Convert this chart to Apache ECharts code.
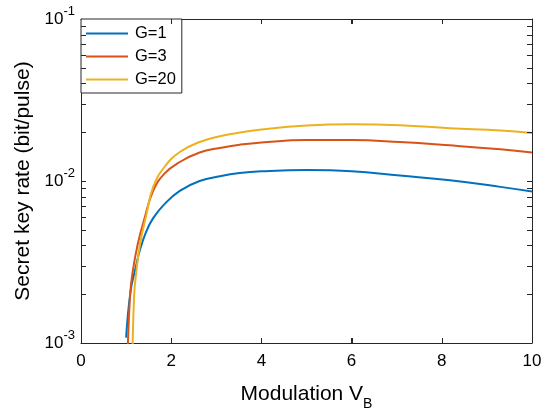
<!DOCTYPE html>
<html><head><meta charset="utf-8">
<script src="https://cdn.jsdelivr.net/npm/echarts@6/dist/echarts.min.js"></script>
<style>html,body{margin:0;padding:0;background:#fff}#c{width:550px;height:420px}</style>
</head><body><div id="c"></div>
<script>
const seriesNames = ['G=1', 'G=3', 'G=20'];
const seriesColors = ['#0072BD', '#D95319', '#EDB120'];

const vB_G1   = [1.00, 1.10, 1.21, 1.30, 1.45, 1.60, 1.85, 2.19, 2.63, 3.08, 3.52, 4.00, 5.00, 6.00, 7.07, 8.18, 9.30, 10.0];
const rate_G1 = [0.00108, 0.0021, 0.0029, 0.0037, 0.0049, 0.0059, 0.0072, 0.0087, 0.0100, 0.0107, 0.0112, 0.01148, 0.0117, 0.0115, 0.0108, 0.0101, 0.0092, 0.0086];

const vB_G3   = [1.03, 1.09, 1.15, 1.26, 1.41, 1.60, 1.85, 2.19, 2.63, 3.08, 3.52, 4.00, 5.00, 6.00, 7.07, 8.18, 9.30, 10.0];
const rate_G3 = [0.0008, 0.0020, 0.0028, 0.0041, 0.0059, 0.0087, 0.0111, 0.0131, 0.0150, 0.0160, 0.01675, 0.0173, 0.0179, 0.0179, 0.0174, 0.0166, 0.0157, 0.0150];

const vB_G20   = [1.14, 1.18, 1.23, 1.31, 1.45, 1.60, 1.85, 2.19, 2.63, 3.08, 3.52, 4.00, 5.00, 6.00, 7.07, 8.18, 9.30, 10.0];
const rate_G20 = [0.0008, 0.0020, 0.0028, 0.0041, 0.0062, 0.0092, 0.0122, 0.0151, 0.0174, 0.0189, 0.0199, 0.0208, 0.0220, 0.0224, 0.0221, 0.0212, 0.0205, 0.0198];

const xTickLabels = [0, 2, 4, 6, 8, 10];
const yDecadeExponents = [-3, -2, -1];

const xs = [vB_G1, vB_G3, vB_G20];
const ys = [rate_G1, rate_G3, rate_G20];

const minorTickValues = [];
for (let i = 0; i < yDecadeExponents.length - 1; i++) {
  for (let m = 2; m <= 9; m++) minorTickValues.push(m * Math.pow(10, yDecadeExponents[i]));
}

const axisColor = '#262626';
const font = 'Liberation Sans';
const xMin = xTickLabels[0], xMax = xTickLabels[xTickLabels.length - 1];
const yMin = Math.pow(10, yDecadeExponents[0]), yMax = Math.pow(10, yDecadeExponents[yDecadeExponents.length - 1]);

const lineSeries = seriesNames.map((name, i) => ({
  name: name,
  type: 'line',
  data: xs[i].map((x, j) => [x, ys[i][j]]),
  symbol: 'none',
  smooth: 0.45,
  clip: true,
  lineStyle: { color: seriesColors[i], width: 2 },
  itemStyle: { color: seriesColors[i] },
  z: 3
}));

const xAxisBase = {
  type: 'value', min: xMin, max: xMax, interval: 2,
  splitLine: { show: false },
  axisLine: { show: true, onZero: false, lineStyle: { color: axisColor, width: 1 } },
  axisTick: { show: true, inside: true, length: 5, lineStyle: { color: axisColor } }
};
const yAxisBase = {
  type: 'log', logBase: 10, min: yMin, max: yMax, interval: 1,
  splitLine: { show: false },
  axisLine: { show: true, onZero: false, lineStyle: { color: axisColor, width: 1 } },
  axisTick: { show: true, inside: true, length: 5, lineStyle: { color: axisColor } }
};

const option = {
  animation: false,
  backgroundColor: '#fff',
  textStyle: { fontFamily: font },
  grid: { left: 81, right: 18, top: 19, bottom: 77, containLabel: false },
  legend: {
    data: seriesNames,
    orient: 'vertical',
    left: 81, top: 19,
    icon: 'rect',
    itemWidth: 42, itemHeight: 2, itemGap: 6,
    padding: [6, 6, 5, 5],
    backgroundColor: '#fff',
    borderColor: axisColor, borderWidth: 1, borderRadius: 0,
    textStyle: { fontFamily: font, fontSize: 16.5, color: '#000', padding: [0, 0, 0, 2] },
    z: 30
  },
  xAxis: [
    Object.assign({}, xAxisBase, {
      position: 'bottom',
      name: '{a|Modulation V}{b|B}',
      nameLocation: 'middle', nameGap: 34,
      nameTextStyle: { rich: {
        a: { fontFamily: font, fontSize: 21, color: '#000' },
        b: { fontFamily: font, fontSize: 14, color: '#000', padding: [20, 0, 0, 0] }
      } },
      axisLabel: { margin: 10, fontFamily: font, fontSize: 17, color: '#000' }
    }),
    Object.assign({}, xAxisBase, { position: 'top', axisLabel: { show: false } })
  ],
  yAxis: [
    Object.assign({}, yAxisBase, {
      position: 'left',
      name: 'Secret key rate (bit/pulse)',
      nameLocation: 'middle', nameGap: 45,
      nameTextStyle: { fontFamily: font, fontSize: 21, color: '#000' },
      axisLabel: {
        margin: 6,
        formatter: function (v) { return '{a|10}{b|' + Math.round(Math.log10(v)) + '}'; },
        rich: {
          a: { fontFamily: font, fontSize: 17, color: '#000' },
          b: { fontFamily: font, fontSize: 13, color: '#000', padding: [0, 0, 16, 0] }
        }
      }
    }),
    Object.assign({}, yAxisBase, { position: 'right', axisLabel: { show: false } })
  ],
  series: lineSeries
};

const chart = echarts.init(document.getElementById('c'), null, { renderer: 'canvas' });
chart.setOption(option);

// tick marks on all four sides, positioned through the axes' own scales
const xL = chart.convertToPixel({ xAxisIndex: 0 }, xMin);
const xR = chart.convertToPixel({ xAxisIndex: 0 }, xMax);
const yB = chart.convertToPixel({ yAxisIndex: 0 }, yMin);
const yT = chart.convertToPixel({ yAxisIndex: 0 }, yMax);
const tickLen = 5;
const els = [];
function seg(x1, y1, x2, y2) {
  els.push({ type: 'line', z: 100, silent: true, shape: { x1: x1, y1: y1, x2: x2, y2: y2 }, style: { stroke: axisColor, lineWidth: 1 } });
}
const yTickValues = minorTickValues.concat(yDecadeExponents.slice(1, -1).map(e => Math.pow(10, e)));
yTickValues.forEach(v => {
  const y = Math.round(chart.convertToPixel({ yAxisIndex: 0 }, v)) + 0.5;
  seg(xL, y, xL + tickLen, y);
  seg(xR, y, xR - tickLen, y);
});
xTickLabels.slice(1, -1).forEach(v => {
  const x = Math.round(chart.convertToPixel({ xAxisIndex: 0 }, v)) + 0.5;
  seg(x, yB, x, yB - tickLen);
  seg(x, yT, x, yT + tickLen);
});
chart.setOption({ graphic: { elements: els } });
</script>
</body></html>
